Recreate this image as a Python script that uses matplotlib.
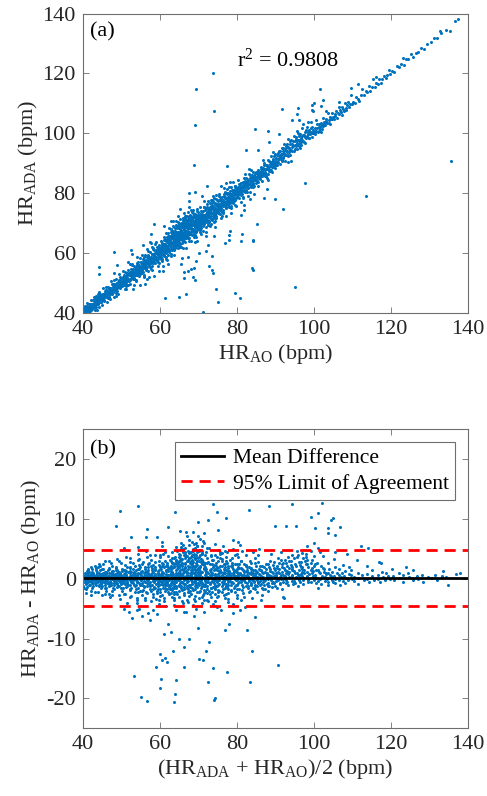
import numpy as np
import matplotlib
matplotlib.use("Agg")
import matplotlib.pyplot as plt

plt.rcParams["font.family"] = "Liberation Serif"
plt.rcParams["mathtext.fontset"] = "custom"
plt.rcParams["mathtext.rm"] = "Liberation Serif"
plt.rcParams["mathtext.it"] = "Liberation Serif:italic"
plt.rcParams["axes.unicode_minus"] = False

# Paired readings (HR_AO, HR_ADA - HR_AO), grouped by HR_AO range
seg_40 = [
    (39.8, 0.6), (40.0, -0.3), (40.1, 0.9), (40.2, -0.8), (40.3, 0.2), (40.4, 1.3), (40.5, -0.1), (40.6, 0.5), (40.7, -1.2), (40.8, 0.0),
    (40.9, 0.7), (41.0, -0.5), (41.1, 1.1), (41.2, -0.2), (41.3, 0.4), (41.4, -0.9), (41.5, 1.6), (41.6, 0.1), (41.7, -0.6), (41.8, 0.8),
    (41.9, -1.4), (42.0, 0.3), (42.1, 1.0), (42.2, -0.4), (42.3, 0.6), (42.4, -1.0), (42.5, 0.2), (42.6, 1.8), (42.7, -0.7), (42.8, 0.5),
    (42.9, -0.1), (43.0, 1.2), (43.1, -1.6), (43.2, 0.3), (43.3, 0.9), (43.4, -0.3), (43.5, 2.1), (43.6, -0.8), (43.7, 0.1), (43.8, 1.4),
    (43.9, -1.1), (44.0, 0.6), (44.1, -0.2), (44.2, 0.8), (44.3, -2.3), (44.4, 0.4), (44.5, 1.7), (44.6, -0.5), (44.7, 0.0), (44.8, -1.3),
    (44.9, 0.7), (40.3, -1.9), (41.2, 2.0), (42.0, -2.4), (42.9, 2.5), (43.6, -2.8), (44.2, 2.9), (40.6, 1.5), (41.6, -1.7), (43.1, 1.9),
    (39.9, -0.4), (40.4, 0.3), (40.9, -0.6), (41.4, 0.5), (41.9, 0.1), (42.4, 0.7), (42.8, -0.3), (43.4, 0.4), (43.9, -0.1), (44.5, 0.2),
    (40.1, 0.0), (40.7, 0.4), (41.3, -0.3), (41.8, 0.6), (42.3, -0.5), (42.7, 0.2), (43.2, -0.2), (43.7, 0.5), (44.1, -0.6), (44.7, 0.9),
]
seg_45 = [
    (45.0, 0.3), (45.1, -0.9), (45.2, 1.2), (45.4, -0.1), (45.5, 0.6), (45.6, -1.5), (45.7, 0.9), (45.8, 0.0), (45.9, -0.6), (46.0, 1.6),
    (46.1, -0.3), (46.2, 0.5), (46.4, -1.1), (46.5, 2.2), (46.6, 0.2), (46.7, -0.8), (46.8, 1.0), (46.9, -2.0), (47.0, 0.4), (47.1, 1.3),
    (47.2, -0.4), (47.4, 0.7), (47.5, -1.3), (47.6, 1.9), (47.7, 0.1), (47.8, -0.7), (47.9, 0.8), (48.0, -2.6), (48.1, 0.3), (48.2, 1.5),
    (48.3, -0.2), (48.4, 0.9), (48.5, -1.0), (48.6, 2.7), (48.7, 0.0), (48.8, -0.5), (48.9, 1.1), (49.0, -1.8), (49.1, 0.6), (49.2, -0.3),
    (49.3, 1.7), (49.4, -0.9), (49.5, 0.4), (49.6, -1.4), (49.7, 2.3), (49.8, 0.2), (49.9, -0.6), (45.3, 2.9), (46.3, -2.7), (47.3, 3.3),
    (48.0, 5.2), (48.6, -3.1), (49.4, 3.6), (45.6, 0.8), (46.0, -0.2), (46.6, 0.4), (47.1, -0.5), (47.7, 0.6), (48.2, -0.1), (48.8, 0.5),
    (49.3, 0.0), (49.8, -0.4), (45.2, -0.5), (45.9, 0.3), (46.5, -0.3), (47.0, 1.0), (47.5, 0.2), (48.4, -0.7), (49.0, 0.8), (49.6, 0.1),
    (45.8, 1.4), (46.8, -1.6), (47.8, 1.8), (48.7, -2.1), (49.5, 1.3),
]
seg_50 = [
    (50.0, 0.5), (50.1, -1.2), (50.2, 1.4), (50.3, -0.2), (50.4, 0.8), (50.5, -0.7), (50.6, 2.0), (50.7, 0.1), (50.8, -1.6), (50.9, 0.6),
    (51.0, -0.4), (51.1, 1.1), (51.2, -2.1), (51.3, 0.3), (51.4, 1.8), (51.5, -0.9), (51.6, 0.0), (51.7, 2.6), (51.8, -0.5), (51.9, 0.9),
    (52.0, -1.4), (52.1, 0.4), (52.2, 1.6), (52.3, -2.6), (52.4, 0.2), (52.5, -0.3), (52.6, 1.2), (52.7, -1.0), (52.8, 3.1), (52.9, 0.7),
    (53.0, -0.6), (53.1, 1.5), (53.2, -1.9), (53.3, 0.1), (53.4, 2.3), (53.5, -0.8), (53.6, 0.5), (53.7, -3.0), (53.8, 1.0), (53.9, -0.2),
    (54.0, 1.9), (54.1, -1.3), (54.2, 0.3), (54.3, 2.8), (54.4, -0.4), (54.5, 0.8), (54.6, -2.2), (54.7, 1.3), (54.8, -0.1), (54.9, 0.6),
    (50.4, 3.5), (51.3, -3.4), (52.2, 4.2), (52.9, 6.9), (53.4, -4.0), (54.1, 4.7), (54.8, -5.6), (51.8, 5.3), (53.1, -5.0), (50.9, -2.8),
    (50.2, -0.1), (50.7, 0.4), (51.2, 0.0), (51.7, -0.6), (52.2, 0.5), (52.7, 0.2), (53.2, -0.3), (53.7, 0.7), (54.2, -0.5), (54.7, 0.1),
    (50.5, 1.0), (51.1, -0.8), (51.6, 1.3), (52.3, -1.1), (52.8, 0.9), (53.3, -1.5), (53.8, 1.6), (54.3, -1.0), (54.6, 1.1), (54.9, -0.7),
]
seg_55 = [
    (55.0, 0.4), (55.1, -1.5), (55.2, 1.7), (55.3, -0.3), (55.4, 0.9), (55.5, -2.3), (55.6, 2.5), (55.7, 0.1), (55.8, -0.8), (55.9, 1.2),
    (56.0, -1.1), (56.1, 0.6), (56.2, 3.2), (56.3, -0.5), (56.4, 1.0), (56.5, -1.9), (56.6, 0.2), (56.7, 2.1), (56.8, -2.7), (56.9, 0.7),
    (57.0, -0.2), (57.1, 1.5), (57.2, -1.3), (57.3, 0.3), (57.4, 2.8), (57.5, -0.7), (57.6, 1.1), (57.7, -3.2), (57.8, 0.5), (57.9, 1.9),
    (58.0, -1.0), (58.1, 0.0), (58.2, 3.6), (58.3, -1.7), (58.4, 0.8), (58.5, -0.4), (58.6, 2.3), (58.7, -2.1), (58.8, 1.3), (58.9, -0.1),
    (59.0, 0.9), (59.1, -1.4), (59.2, 2.7), (59.3, 0.2), (59.4, -0.9), (59.5, 1.6), (59.6, -2.5), (59.7, 0.6), (59.8, 3.0), (59.9, -0.6),
    (55.4, 4.0), (56.0, -4.1), (56.6, 4.8), (57.2, -5.1), (57.8, 5.5), (58.5, -6.2), (59.1, 4.4), (59.6, -3.8), (55.9, -3.5), (58.0, 3.9),
    (56.1, -6.5), (57.5, 6.2), (55.2, -0.2), (55.7, 0.5), (56.3, 0.1), (56.8, -0.3), (57.3, 0.8), (57.8, -0.6), (58.3, 0.4), (58.8, -0.2),
    (59.3, 0.7), (59.8, 0.0), (55.5, 1.1), (56.0, 1.3), (56.5, -1.2), (57.0, 1.8), (57.6, -0.9), (58.1, 1.4), (58.6, -1.1), (59.0, 1.9),
    (59.5, -1.6), (55.8, 2.0), (57.9, -2.4), (59.4, 2.2), (56.4, -2.0),
]
seg_60 = [
    (60.0, 0.6), (60.1, -1.3), (60.2, 1.9), (60.3, -0.4), (60.4, 1.0), (60.5, -2.4), (60.6, 2.6), (60.7, 0.2), (60.8, -0.9), (60.9, 1.5),
    (61.0, -1.7), (61.1, 0.8), (61.2, 3.1), (61.3, -0.2), (61.4, 1.3), (61.5, -2.9), (61.6, 0.4), (61.7, 2.2), (61.8, -1.1), (61.9, 0.0),
    (62.0, 1.7), (62.1, -0.6), (62.2, 3.6), (62.3, -2.0), (62.4, 0.9), (62.5, 2.4), (62.6, -0.3), (62.7, 1.1), (62.8, -3.3), (62.9, 4.1),
    (63.0, 0.5), (63.1, -1.4), (63.2, 2.8), (63.3, 0.1), (63.4, -0.8), (63.5, 3.4), (63.6, 1.6), (63.7, -2.6), (63.8, 0.7), (63.9, 4.4),
    (64.0, -0.5), (64.1, 2.0), (64.2, -1.9), (64.3, 1.2), (64.4, 3.9), (64.5, -0.1), (64.6, 2.5), (64.7, -1.2), (64.8, 0.3), (64.9, 4.7),
    (60.2, 3.8), (60.6, -3.4), (61.0, 4.5), (61.5, 5.3), (61.9, -4.2), (62.4, 6.0), (62.9, -3.8), (63.3, 5.6), (63.8, -4.6), (64.3, 6.5),
    (64.7, -3.0), (60.9, -5.2), (62.1, -5.9), (63.5, 7.2), (64.1, 5.1), (64.6, 7.8), (60.3, 0.1), (60.7, -0.5), (61.1, 0.3), (61.6, -0.2),
    (62.0, 0.6), (62.5, 0.0), (62.9, 0.8), (63.4, -0.4), (63.8, 1.0), (64.2, 0.2), (64.6, -0.6), (60.1, 1.1), (60.5, 0.9), (61.0, 2.0),
    (61.4, -1.0), (61.8, 1.8), (62.2, -1.5), (62.6, 2.1), (63.0, -1.0), (63.4, 1.5), (63.9, -1.6), (64.3, 2.7), (64.8, -2.2), (61.2, -2.2),
    (62.7, 3.0), (63.1, 3.7), (63.6, 2.9), (64.0, 3.3), (64.4, 2.3), (64.9, 3.5), (62.3, 1.3), (63.2, -0.1), (64.5, 1.4), (61.3, 1.6),
    (60.4, -1.8), (61.7, -0.7), (62.8, 1.9), (63.7, 0.4), (64.7, 0.9), (60.8, 2.3), (62.0, -2.7), (63.3, 2.2), (64.2, -0.9), (61.9, 2.6),
    (62.4, -1.0), (63.5, -1.8), (64.8, 1.7), (60.0, -0.7), (61.5, 0.5), (62.6, 0.6), (63.9, 2.4), (64.1, -0.3), (63.0, 4.9), (64.5, 4.2),
    (62.2, 4.6), (63.6, 5.0), (64.0, -2.4), (61.4, 3.4), (62.9, 2.7), (63.8, 3.0), (64.4, -1.3), (60.6, 0.4), (61.1, -0.9), (64.9, 0.5),
]
seg_65 = [
    (65.0, 0.8), (65.1, -1.6), (65.2, 2.7), (65.3, 0.0), (65.4, 4.3), (65.5, -0.7), (65.6, 1.8), (65.7, -2.5), (65.8, 3.5), (65.9, 0.4),
    (66.0, 5.0), (66.1, -1.2), (66.2, 2.2), (66.3, -0.2), (66.4, 4.6), (66.5, 1.0), (66.6, -3.1), (66.7, 3.0), (66.8, 0.6), (66.9, 5.4),
    (67.0, -0.9), (67.1, 2.5), (67.2, -1.8), (67.3, 4.0), (67.4, 1.4), (67.5, -0.4), (67.6, 3.3), (67.7, -2.8), (67.8, 0.9), (67.9, 4.8),
    (68.0, -1.0), (68.1, 2.0), (68.2, 0.2), (68.3, -2.2), (68.4, 3.7), (68.5, 1.2), (68.6, -0.6), (68.7, 2.9), (68.8, -3.5), (68.9, 0.5),
    (69.0, 4.1), (69.1, -1.5), (69.2, 1.6), (69.3, -0.1), (69.4, 3.2), (69.5, -2.6), (69.6, 0.7), (69.7, 2.4), (69.8, -1.3), (69.9, 3.9),
    (65.3, 6.2), (65.9, -4.4), (66.3, 7.1), (66.8, -5.3), (67.2, 6.6), (67.6, 7.7), (68.1, -4.0), (68.6, 5.9), (69.1, -5.6), (69.6, 5.2),
    (66.0, 5.8), (67.0, 5.5), (68.0, 6.3), (69.3, -3.9), (65.6, -3.6), (65.0, -0.3), (65.4, 0.5), (65.8, -0.5), (66.2, 0.3), (66.6, 1.1),
    (67.0, 0.1), (67.4, -0.6), (67.8, 0.4), (68.2, -0.3), (68.6, 0.8), (69.0, 0.0), (69.4, -0.5), (69.8, 0.6), (65.2, 1.5), (65.7, 3.1),
    (66.1, -2.0), (66.5, 2.6), (66.9, -1.4), (67.3, 1.9), (67.7, 3.6), (68.1, -1.7), (68.5, 2.3), (68.9, -2.0), (69.3, 1.7), (69.7, -0.8),
    (65.1, 3.8), (65.5, 2.0), (65.9, 4.5), (66.4, 1.6), (66.7, 4.2), (67.1, -0.2), (67.5, 4.4), (67.9, 1.1), (68.3, 3.4), (68.8, 1.4),
    (69.2, 2.8), (69.6, -1.9), (65.6, -1.0), (66.0, 3.4), (66.4, -0.8), (66.8, 2.0), (67.2, 2.8), (67.6, -1.2), (68.0, 1.7), (68.4, -1.1),
    (68.8, 4.3), (69.2, -0.4), (69.9, 1.3), (65.3, -2.2), (65.8, 1.2), (66.3, 3.9), (66.9, 3.1), (67.4, -2.4), (67.9, 2.2), (68.5, 4.7),
    (69.0, -2.9), (69.5, 1.0), (65.4, 2.4), (66.6, 4.9), (67.7, 0.6), (68.7, -0.9), (69.4, 2.1), (66.2, -1.5), (67.3, 1.0), (68.2, 3.0),
]
seg_70 = [
    (70.0, 0.4), (70.1, -1.8), (70.2, 2.3), (70.3, -0.3), (70.4, 1.2), (70.5, -2.9), (70.6, 3.4), (70.7, 0.0), (70.8, -1.1), (70.9, 1.9),
    (71.0, -0.6), (71.1, 2.8), (71.2, -2.3), (71.3, 0.7), (71.4, 4.0), (71.5, -1.5), (71.6, 1.0), (71.7, -0.2), (71.8, 2.5), (71.9, -3.3),
    (72.0, 0.9), (72.1, -0.9), (72.2, 3.1), (72.3, -1.9), (72.4, 0.3), (72.5, 1.6), (72.6, -2.7), (72.7, 2.0), (72.8, -0.5), (72.9, 3.7),
    (73.0, -1.3), (73.1, 0.5), (73.2, 2.6), (73.3, -3.6), (73.4, 1.4), (73.5, -0.1), (73.6, 3.0), (73.7, -2.1), (73.8, 0.8), (73.9, 1.8),
    (74.0, -1.6), (74.1, 4.3), (74.2, 0.1), (74.3, -2.5), (74.4, 2.2), (74.5, -0.8), (74.6, 1.3), (74.7, -3.0), (74.8, 2.9), (74.9, 0.2),
    (70.3, 5.1), (70.8, -4.4), (71.5, 5.8), (72.0, -5.0), (72.6, 4.8), (73.1, -4.1), (73.7, 5.4), (74.2, -5.5), (74.7, 4.6), (71.9, -6.2),
    (70.1, 0.9), (70.5, -0.4), (70.9, 0.3), (71.3, -0.7), (71.7, 1.1), (72.1, 0.0), (72.5, -0.5), (72.9, 0.6), (73.3, 0.2), (73.7, -0.6),
    (74.1, 0.7), (74.5, -0.2), (74.9, 1.0), (70.4, 2.7), (70.7, -2.2), (71.2, 1.6), (71.6, -1.3), (72.2, -1.2), (72.7, 1.2), (73.2, -1.7),
    (73.6, 2.1), (74.0, 1.5), (74.4, -1.4), (74.8, -1.0), (70.2, -0.7), (71.0, 1.5), (71.8, 0.5), (72.4, 2.4), (73.0, 1.0), (73.5, -2.4),
    (74.3, 0.4), (70.6, 1.7), (71.4, -0.9), (72.8, -2.0), (73.9, -0.4), (74.6, 3.3), (72.3, 3.9), (73.4, 4.2), (71.1, -3.8), (74.0, -3.5),
]
seg_75 = [
    (75.0, 0.5), (75.1, -1.4), (75.2, 2.1), (75.3, -0.2), (75.4, 1.1), (75.5, -2.6), (75.6, 3.0), (75.7, 0.1), (75.8, -0.9), (75.9, 1.7),
    (76.0, -1.9), (76.1, 0.8), (76.2, 2.6), (76.3, -0.5), (76.4, 1.4), (76.5, -3.1), (76.6, 0.3), (76.7, 2.2), (76.8, -1.2), (76.9, 0.0),
    (77.0, 3.4), (77.1, -0.7), (77.2, 1.3), (77.3, -2.2), (77.4, 0.6), (77.5, 2.7), (77.6, -1.6), (77.7, 0.9), (77.8, -0.3), (77.9, 1.9),
    (78.0, -2.8), (78.1, 0.4), (78.2, 2.4), (78.3, -1.0), (78.4, 1.0), (78.5, -0.4), (78.6, 3.6), (78.7, -1.8), (78.8, 0.7), (78.9, 1.5),
    (79.0, -2.4), (79.1, 0.2), (79.2, 2.0), (79.3, -0.8), (79.4, 1.2), (79.5, -3.4), (79.6, 2.9), (79.7, -0.1), (79.8, 0.8), (79.9, -1.5),
    (75.3, 4.4), (75.9, -4.2), (76.6, 5.0), (77.2, -4.8), (77.9, 4.1), (78.4, -5.2), (79.1, 4.7), (79.7, -3.9), (76.2, -3.7), (78.1, 5.6),
    (75.1, 0.2), (75.5, -0.3), (75.9, 0.6), (76.3, 0.0), (76.7, -0.6), (77.1, 0.4), (77.5, -0.1), (77.9, 0.7), (78.3, 0.1), (78.7, -0.5),
    (79.1, 0.5), (79.5, 0.0), (79.9, 0.9), (75.6, -1.1), (76.0, 1.2), (76.8, 1.8), (77.3, 1.0), (77.7, -1.2), (78.2, -1.4), (78.9, -1.1),
    (79.3, 1.6), (75.8, 2.4), (76.4, -2.1), (77.6, 2.3), (78.5, 1.3), (79.6, -2.0), (75.2, -1.7), (76.9, -0.9), (78.0, 0.3), (79.4, 2.5),
]
seg_80 = [
    (80.0, 0.4), (80.1, -1.3), (80.2, 1.8), (80.3, -0.3), (80.4, 0.9), (80.5, -2.2), (80.6, 2.5), (80.7, 0.0), (80.8, -0.8), (80.9, 1.4),
    (81.0, -1.7), (81.1, 0.6), (81.2, 2.2), (81.3, -0.5), (81.4, 1.1), (81.5, -2.7), (81.6, 0.3), (81.7, 1.9), (81.8, -1.0), (81.9, 3.0),
    (82.0, -0.1), (82.1, 1.2), (82.2, -1.9), (82.3, 0.7), (82.4, 2.6), (82.5, -0.6), (82.6, 1.0), (82.7, -2.4), (82.8, 0.2), (82.9, 1.6),
    (83.0, -1.2), (83.1, 3.4), (83.2, -0.2), (83.3, 0.8), (83.4, -3.0), (83.5, 1.5), (83.6, 0.1), (83.7, -1.5), (83.8, 2.1), (83.9, -0.7),
    (84.0, 0.5), (84.1, 2.8), (84.2, -1.1), (84.3, 0.2), (84.4, 1.3), (84.5, -2.0), (84.6, 0.9), (84.7, -0.4), (84.8, 1.7), (84.9, -1.6),
    (80.4, 3.9), (81.2, -4.2), (82.0, 4.4), (82.8, -3.6), (83.6, 4.0), (84.4, -4.8), (81.6, -3.3), (83.2, 5.0), (80.2, 0.1), (80.8, 0.6),
    (81.4, -0.2), (82.1, 0.3), (82.7, 0.5), (83.3, -0.4), (84.0, -0.3), (84.6, 0.4), (80.6, -1.0), (81.8, 1.5), (83.0, 1.1), (84.2, -0.9),
]
seg_85 = [
    (85.0, 0.3), (85.1, -1.0), (85.2, 1.5), (85.3, -0.2), (85.4, 0.8), (85.5, -1.8), (85.6, 2.1), (85.7, 0.1), (85.8, -0.6), (85.9, 1.2),
    (86.0, -1.3), (86.1, 0.5), (86.2, 2.5), (86.3, -0.4), (86.4, 0.9), (86.5, -2.3), (86.6, 0.2), (86.7, 1.6), (86.8, -0.9), (86.9, 0.0),
    (87.0, 3.0), (87.1, -0.5), (87.2, 1.0), (87.3, -1.5), (87.4, 0.6), (87.5, 1.9), (87.6, -1.1), (87.7, 0.4), (87.8, -2.7), (87.9, 1.3),
    (88.0, -0.1), (88.1, 0.7), (88.2, -1.7), (88.3, 2.3), (88.4, 0.3), (88.5, -0.7), (88.6, 1.1), (88.7, -1.2), (88.8, 0.9), (88.9, 3.5),
    (89.0, -0.3), (89.1, 1.4), (89.2, -2.0), (89.3, 0.5), (89.4, 1.8), (89.5, -0.8), (89.6, 0.2), (89.7, 2.6), (89.8, -1.4), (89.9, 0.6),
    (85.6, -3.2), (86.9, 4.1), (88.1, -3.6), (89.3, 4.4), (87.4, -0.3),
]
seg_90 = [
    (90.0, 0.5), (90.1, -0.8), (90.2, 1.6), (90.3, 0.1), (90.4, 2.4), (90.5, -1.2), (90.6, 0.9), (90.7, 1.9), (90.8, -0.3), (90.9, 3.1),
    (91.0, 0.3), (91.1, -1.5), (91.2, 1.2), (91.3, 2.7), (91.4, -0.1), (91.5, 0.7), (91.6, 3.6), (91.7, -0.9), (91.8, 1.4), (91.9, 0.0),
    (92.0, 2.2), (92.1, -0.5), (92.2, 1.0), (92.3, 4.0), (92.4, 0.4), (92.5, -1.8), (92.6, 1.8), (92.7, 2.9), (92.8, -0.2), (92.9, 0.8),
    (93.0, 3.4), (93.1, 1.1), (93.2, -0.7), (93.3, 2.0), (93.4, 4.6), (93.5, 0.2), (93.6, 1.5), (93.7, -1.1), (93.8, 2.5), (93.9, 0.6),
    (94.0, 3.9), (94.2, 1.3), (94.4, -0.4), (94.6, 2.8), (94.8, 4.3),
]
seg_95 = [
    (95.0, 1.0), (95.1, -0.4), (95.2, 2.3), (95.3, 0.3), (95.4, 3.5), (95.5, 1.4), (95.6, -0.8), (95.7, 2.0), (95.8, 0.6), (95.9, 4.1),
    (96.0, 1.7), (96.1, -0.2), (96.2, 2.9), (96.3, 0.8), (96.4, 1.2), (96.5, 3.2), (96.6, -0.6), (96.7, 0.4), (96.8, 2.4), (96.9, 1.0),
    (97.0, 4.7), (97.2, 0.1), (97.4, 1.9), (97.6, -0.9), (97.8, 2.7), (98.0, 0.5), (98.2, 3.8), (98.4, 1.5), (98.6, -0.3), (98.8, 2.2),
    (99.0, 0.9), (99.2, 1.3), (99.4, -0.5), (99.6, 2.6), (99.8, 0.2), (95.5, 5.4), (97.1, 5.9), (98.5, 5.2), (96.4, -1.3), (99.3, 4.4),
]
seg_100 = [
    (100.0, 0.6), (100.2, -0.3), (100.4, 1.4), (100.6, 0.1), (100.8, 2.2), (101.0, -0.7), (101.2, 0.9), (101.4, 1.8), (101.6, -0.1), (101.8, 0.5),
    (102.0, 1.1), (102.2, -0.9), (102.4, 2.7), (102.6, 0.3), (102.8, 0.8), (103.0, -0.4), (103.2, 1.6), (103.4, 0.0), (103.6, 3.3), (103.8, 0.7),
    (104.0, -0.6), (104.2, 1.2), (104.4, 0.2), (104.6, 2.0), (104.8, -0.2), (100.5, 3.8), (101.9, -1.5), (103.1, 4.5), (104.3, -1.1), (102.7, 1.0),
]
seg_105 = [
    (105.0, 0.4), (105.2, -0.5), (105.4, 1.0), (105.6, 0.0), (105.8, 1.6), (106.0, -0.8), (106.2, 0.6), (106.4, 2.3), (106.6, -0.2), (106.8, 0.9),
    (107.0, 0.2), (107.2, -1.0), (107.4, 1.3), (107.6, 0.5), (107.8, -0.4), (108.0, 2.0), (108.2, 0.1), (108.4, -0.7), (108.6, 0.8), (108.8, 1.5),
    (109.0, -0.3), (109.3, 0.6), (109.6, 3.2), (109.9, 0.0), (106.5, 4.1),
]
seg_110 = [
    (110.2, 0.3), (110.6, -0.4), (111.0, 1.0), (111.4, 0.1), (111.8, -0.9), (112.2, 0.6), (112.6, 2.2), (113.0, -0.2), (113.4, 0.8), (113.8, 0.0),
    (114.2, 1.5), (114.6, -0.6), (115.0, 0.4), (115.4, 2.8), (115.8, -0.3), (116.2, 0.7), (116.6, 0.0), (117.0, 1.2), (117.4, -0.5), (117.8, 0.3),
    (118.2, 0.9), (118.6, -0.2), (119.0, 0.5), (119.4, 1.7), (119.8, -0.1),
]
seg_120 = [
    (120.3, 0.4), (120.9, -0.3), (121.5, 1.0), (122.1, 0.1), (122.7, 0.6), (123.3, -0.5), (123.9, 0.9), (124.5, 0.2), (125.1, 1.4), (125.8, -0.2),
    (126.4, 0.5), (127.1, 0.0), (127.8, 0.7), (128.6, -0.6), (129.4, 0.3), (130.3, 0.1), (131.2, 0.6), (132.0, -0.3), (133.1, 0.4), (134.2, 0.2),
    (135.4, -1.1), (136.6, 0.8),
]

# Second pass over the dense band
extra_40 = [
    (40.15, 0.2), (40.35, -0.6), (40.55, 0.8), (40.75, -0.1), (40.95, 1.0), (41.15, -0.8), (41.35, 0.3), (41.55, -0.4), (41.75, 1.2), (41.95, 0.0),
    (42.15, -1.1), (42.35, 0.5), (42.55, -0.2), (42.75, 1.4), (42.95, -0.7), (43.15, 0.6), (43.35, -1.3), (43.55, 0.1), (43.75, 0.9), (43.95, -0.5),
    (44.15, 1.6), (44.35, -0.3), (44.55, 0.4), (44.75, -1.0), (44.95, 0.7), (45.15, -0.2), (45.35, 1.1), (45.55, -1.2), (45.75, 0.3), (45.95, 1.8),
    (46.15, -0.6), (46.35, 0.9), (46.55, -1.5), (46.75, 0.1), (46.95, 1.3), (47.15, -0.9), (47.35, 0.5), (47.55, -0.1), (47.75, 1.5), (47.95, -1.1),
    (48.15, 0.7), (48.35, -0.4), (48.55, 1.2), (48.75, -1.6), (48.95, 0.2), (49.15, 1.0), (49.35, -0.7), (49.55, 0.6), (49.75, -1.2), (49.95, 1.4),
    (40.45, 1.7), (41.05, -1.6), (42.05, 2.2), (43.05, -2.0), (44.05, 2.4), (45.05, -2.3), (46.05, 2.6), (47.05, -2.5), (48.05, 2.9), (49.05, -2.8),
]
extra_50 = [
    (50.15, 0.3), (50.35, -0.9), (50.55, 1.3), (50.75, -0.3), (50.95, 0.7), (51.15, -1.5), (51.35, 1.9), (51.55, 0.0), (51.75, -0.7), (51.95, 1.1),
    (52.15, -1.2), (52.35, 0.6), (52.55, 2.1), (52.75, -0.5), (52.95, 1.0), (53.15, -1.8), (53.35, 0.4), (53.55, 1.6), (53.75, -1.0), (53.95, 0.2),
    (54.15, 2.4), (54.35, -0.6), (54.55, 1.2), (54.75, -1.7), (54.95, 0.5), (55.15, 1.9), (55.35, -1.1), (55.55, 0.3), (55.75, -2.0), (55.95, 2.6),
    (56.15, -0.4), (56.35, 1.4), (56.55, -1.4), (56.75, 0.6), (56.95, 2.3), (57.15, -0.8), (57.35, 1.0), (57.55, -2.2), (57.75, 0.2), (57.95, 1.7),
    (58.15, -1.3), (58.35, 2.9), (58.55, 0.4), (58.75, -0.6), (58.95, 1.5), (59.15, -1.8), (59.35, 0.8), (59.55, 2.5), (59.75, -0.2), (59.95, 1.2),
    (50.85, 2.8), (51.85, -2.5), (52.85, 3.3), (53.85, -2.9), (54.85, 3.6), (55.85, -3.3), (56.85, 3.9), (57.85, -3.6), (58.85, 4.2), (59.85, -3.1),
]
extra_60 = [
    (60.15, 0.9), (60.35, -1.0), (60.55, 2.1), (60.75, 0.3), (60.95, -0.6), (61.15, 1.5), (61.35, 2.9), (61.55, -1.6), (61.75, 0.6), (61.95, 3.4),
    (62.15, -0.8), (62.35, 1.8), (62.55, 3.2), (62.75, -1.7), (62.95, 0.4), (63.15, 2.4), (63.35, 4.0), (63.55, -1.1), (63.75, 1.9), (63.95, 3.1),
    (64.15, 0.1), (64.35, 4.5), (64.55, -1.5), (64.75, 2.2), (64.95, 3.8), (65.15, 0.6), (65.35, 1.7), (65.55, 4.4), (65.75, -1.3), (65.95, 2.9),
    (66.15, 3.7), (66.35, 0.2), (66.55, 5.1), (66.75, -1.9), (66.95, 2.4), (67.15, 3.6), (67.35, 0.5), (67.55, 1.5), (67.75, 4.6), (67.95, -1.6),
    (68.15, 2.6), (68.35, 0.9), (68.55, 3.9), (68.75, -2.3), (68.95, 1.8), (69.15, 3.3), (69.35, -0.7), (69.55, 2.0), (69.75, 4.4), (69.95, -1.1),
    (60.25, -2.1), (60.85, 1.3), (61.45, -0.4), (62.05, 2.6), (62.65, 0.9), (63.25, -2.2), (63.85, 2.0), (64.45, 0.6), (65.05, -2.6), (65.65, 3.0),
    (66.25, 1.3), (66.85, -0.9), (67.45, 2.2), (68.05, 0.3), (68.65, -1.4), (69.25, 1.2), (69.85, 2.8), (60.65, 0.0), (61.25, 0.5), (61.85, -0.2),
    (62.45, 0.7), (63.05, 0.1), (63.65, -0.5), (64.25, 0.8), (64.85, -0.3), (65.45, 1.0), (66.05, -0.6), (66.65, 0.4), (67.25, -0.2), (67.85, 0.7),
    (68.45, -0.4), (69.05, 0.5), (69.65, 0.0), (62.85, 5.3), (64.65, 5.7), (66.45, 6.0), (68.25, 5.4), (61.65, -3.5), (65.25, -3.2), (67.65, -3.8),
]
extra_70 = [
    (70.15, 0.7), (70.35, -1.4), (70.55, 1.8), (70.75, -0.2), (70.95, 2.6), (71.15, -0.8), (71.35, 1.2), (71.55, -2.0), (71.75, 0.4), (71.95, 3.2),
    (72.15, -1.2), (72.35, 1.5), (72.55, 0.0), (72.75, -2.4), (72.95, 2.3), (73.15, 0.6), (73.35, -0.9), (73.55, 1.7), (73.75, 3.5), (73.95, -1.5),
    (74.15, 0.3), (74.35, 2.0), (74.55, -2.2), (74.75, 0.8), (74.95, 1.4), (75.15, -0.6), (75.35, 2.5), (75.55, -1.3), (75.75, 0.2), (75.95, 1.9),
    (76.15, -2.3), (76.35, 0.9), (76.55, 3.1), (76.75, -0.4), (76.95, 1.3), (77.15, -1.7), (77.35, 0.5), (77.55, 2.1), (77.75, -0.9), (77.95, 0.0),
    (78.15, 1.6), (78.35, -2.6), (78.55, 0.7), (78.75, 2.4), (78.95, -0.6), (79.15, 1.1), (79.35, -1.9), (79.55, 0.4), (79.75, 1.8), (79.95, -0.3),
    (70.45, -3.4), (71.45, 3.8), (72.45, -3.0), (73.45, 4.4), (74.45, -3.7), (75.45, 3.6), (76.45, -2.9), (77.45, 3.9), (78.45, -3.3), (79.45, 3.0),
    (70.85, 0.1), (71.85, -0.4), (72.85, 0.6), (73.85, 0.0), (74.85, -0.3), (75.85, 0.5), (76.85, 0.1), (77.85, -0.5), (78.85, 0.3), (79.85, 0.8),
]
extra_80 = [
    (80.15, 0.5), (80.35, -1.1), (80.55, 1.6), (80.75, 0.1), (80.95, -0.6), (81.15, 2.3), (81.35, -1.8), (81.55, 0.7), (81.75, 1.3), (81.95, -0.3),
    (82.15, 2.0), (82.35, -1.4), (82.55, 0.4), (82.75, 1.8), (82.95, -0.8), (83.15, 0.0), (83.35, 2.6), (83.55, -1.2), (83.75, 0.9), (83.95, 1.5),
    (84.15, -2.2), (84.35, 0.6), (84.55, 1.1), (84.75, -0.5), (84.95, 2.2), (85.15, 0.2), (85.35, -1.3), (85.55, 1.4), (85.75, 0.6), (85.95, -0.7),
    (86.15, 1.9), (86.35, 0.0), (86.55, -1.0), (86.75, 1.2), (86.95, 2.4), (87.15, -0.4), (87.35, 0.8), (87.55, -1.7), (87.75, 1.6), (87.95, 0.3),
    (88.15, 2.8), (88.35, -0.9), (88.55, 0.5), (88.75, 1.8), (88.95, -1.3), (89.15, 0.2), (89.35, 2.1), (89.55, -0.5), (89.75, 1.0), (89.95, 3.2),
]
extra_90 = [
    (90.15, 1.1), (90.45, -0.4), (90.75, 2.6), (91.05, 0.6), (91.35, 1.8), (91.65, -0.7), (91.95, 3.0), (92.25, 1.3), (92.55, 0.1), (92.85, 2.3),
    (93.15, -0.5), (93.45, 1.6), (93.75, 3.7), (94.05, 0.4), (94.35, 2.1), (94.65, 1.0), (94.95, -0.9), (95.25, 2.8), (95.55, 0.7), (95.85, 1.9),
    (96.15, 3.6), (96.45, 0.2), (96.75, 1.5), (97.05, 2.4), (97.35, -0.3), (97.65, 1.2), (97.95, 3.1), (98.25, 0.8), (98.55, 1.8), (98.85, -0.6),
    (99.15, 2.5), (99.45, 0.5), (99.75, 1.4), (100.25, 0.3), (100.75, 1.1), (101.25, -0.4), (101.75, 1.6), (102.25, 0.2), (103.25, 0.9), (104.25, 0.4),
]

# Scattered outliers (HR_AO, difference)
outliers = [
    (44.1, 11.3), (48.2, 12.1), (44.1, 8.8), (52.6, 8.3), (48.9, 7.0), (57.8, 8.6), (58.4, 11.2), (67.6, 12.5), (69.2, 11.1), (67.7, 9.8),
    (65.3, 9.4), (72.2, 10.1), (77.5, 11.5), (82.4, 12.1), (88.2, 12.4), (95.8, 12.7), (101.5, 13.4), (95.5, 10.9), (94.2, 10.3), (99.6, 9.8),
    (100.0, 10.1), (99.4, 8.4), (102.4, 8.7), (85.6, 8.8), (88.4, 8.8), (91.0, 8.8), (96.0, 8.4), (99.8, 7.6), (101.8, 7.3), (55.7, 7.0),
    (61.2, 7.9), (62.9, 7.8), (75.8, 6.5), (77.2, 6.2), (71.0, 8.2), (109.6, 5.4), (111.4, 5.1), (116.2, 2.6), (123.0, 2.0), (132.8, 1.3),
    (137.3, 1.0),
    (61.4, -16.3), (65.0, -19.7), (66.8, -20.5), (66.2, -12.5), (66.4, -14.7), (68.6, -16.7), (69.2, -18.2), (67.4, -13.5), (68.0, -13.2), (68.8, -13.9),
    (65.6, -9.2), (65.8, -7.5), (67.4, -8.9), (69.4, -12.0), (72.7, -17.0), (73.6, -19.2), (73.9, -20.6), (73.6, -14.7), (70.1, -10.0), (72.1, -11.4),
    (72.5, -10.0), (76.8, -13.4), (78.0, -13.6), (74.0, -8.2), (78.0, -12.0), (78.1, -10.6), (81.2, -17.3), (81.3, -15.0), (84.1, -20.2), (84.2, -19.9),
    (85.2, -15.6), (81.2, -8.6), (81.8, -7.5), (87.0, -8.6), (92.0, -17.3), (90.0, -12.0), (87.8, -6.4), (97.8, -14.5), (94.0, -3.3), (93.4, -3.0),
    (69.6, -5.5), (60.8, -6.9), (56.6, -5.3), (59.8, -5.8), (83.4, -5.3), (81.9, -5.8),
    (73.7, 46.3), (69.4, 45.5), (74.0, 33.3), (69.1, 33.8), (68.8, 20.6), (135.7, -45.0), (113.4, -34.3), (95.2, -46.6), (84.0, -29.0), (84.1, -29.7),
    (71.2, -30.9), (74.7, -26.6), (75.1, -31.4), (79.5, -32.8), (80.9, -35.9), (84.6, 16.7), (91.8, 16.4),
]

mean_diff = 0.1
loa_upper = 4.8
loa_lower = -4.6
r2_text = r"r$^2$ = 0.9808"

pairs = (seg_40 + seg_45 + seg_50 + seg_55 + seg_60 + seg_65 + seg_70 + seg_75 + seg_80
         + seg_85 + seg_90 + seg_95 + seg_100 + seg_105 + seg_110 + seg_120
         + extra_40 + extra_50 + extra_60 + extra_70 + extra_80 + extra_90 + outliers)
hr_ao = np.array([p[0] for p in pairs])
hr_diff = np.array([p[1] for p in pairs])
hr_ada = hr_ao + hr_diff
hr_mean = (hr_ada + hr_ao) / 2

blue = "#0072BD"
spine_col = "#6e6e6e"
txt_col = "#262626"

fig = plt.figure(figsize=(4.87, 7.96), dpi=100)


def style_axes(ax):
    for s in ax.spines.values():
        s.set_color(spine_col)
        s.set_linewidth(0.8)
    ax.tick_params(direction="in", top=True, right=True, length=4, width=0.6,
                   color=spine_col, labelsize=16, labelcolor=txt_col, pad=5)


# ---- (a) correlation ----
ax1 = fig.add_axes([0.170, 0.607, 0.791, 0.376])
ax1.plot(hr_ao, hr_ada, "o", ms=2.2, mew=0, color=blue)
ax1.set_xlim(40, 140)
ax1.set_ylim(40, 140)
ax1.set_xticks(np.arange(40, 141, 20))
ax1.set_yticks(np.arange(40, 141, 20))
style_axes(ax1)
ax1.set_xlabel(r"HR$_{\mathrm{AO}}$ (bpm)", fontsize=16, color=txt_col, labelpad=2)
ax1.set_ylabel(r"HR$_{\mathrm{ADA}}$ (bpm)", fontsize=16, color=txt_col, labelpad=2)
ax1.text(42, 134, "(a)", fontsize=16, color="black", va="center")
ax1.text(80.1, 124.5, r2_text, fontsize=16, color="black", va="center")

# ---- (b) Bland-Altman ----
ax2 = fig.add_axes([0.170, 0.085, 0.791, 0.376])
ax2.plot(hr_mean, hr_diff, "o", ms=2.2, mew=0, color=blue)
ax2.axhline(mean_diff, color="black", lw=2.0, label="Mean Difference")
ax2.axhline(loa_upper, color="red", lw=2.0, ls=(0, (4, 2.5)), label="95% Limit of Agreement")
ax2.axhline(loa_lower, color="red", lw=2.0, ls=(0, (4, 2.5)))
ax2.set_xlim(40, 140)
ax2.set_ylim(-25, 25)
ax2.set_xticks(np.arange(40, 141, 20))
ax2.set_yticks(np.arange(-20, 21, 10))
style_axes(ax2)
ax2.set_xlabel(r"(HR$_{\mathrm{ADA}}$ + HR$_{\mathrm{AO}}$)/2 (bpm)", fontsize=16, color=txt_col, labelpad=2)
ax2.set_ylabel(r"HR$_{\mathrm{ADA}}$ - HR$_{\mathrm{AO}}$ (bpm)", fontsize=16, color=txt_col, labelpad=2)
ax2.text(42, 21.6, "(b)", fontsize=16, color="black", va="center")
leg = ax2.legend(loc="upper right", fontsize=15.5, fancybox=False, framealpha=1,
                 edgecolor=spine_col, handlelength=2.0, handletextpad=0.4,
                 borderpad=0.3, labelspacing=0.25, borderaxespad=0.6)
leg.get_frame().set_linewidth(0.8)

fig.savefig("out.png", dpi=100)
